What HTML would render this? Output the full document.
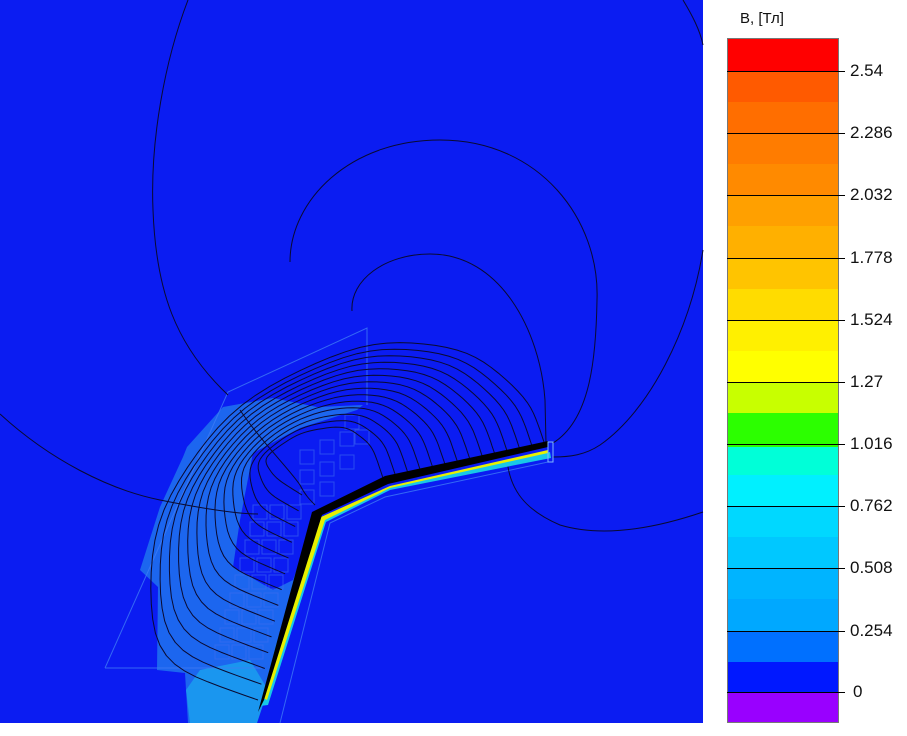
<!DOCTYPE html>
<html><head><meta charset="utf-8"><style>
html,body{margin:0;padding:0;background:#fff;width:907px;height:736px;overflow:hidden;font-family:"Liberation Sans",sans-serif}
#wrap{position:relative;width:907px;height:736px}
.lbl{position:absolute;left:850px;font-size:17px;color:#111;line-height:17px}
</style></head><body><div id="wrap">
<svg id="plot" width="907" height="736" style="position:absolute;left:0;top:0">
<rect x="0" y="0" width="703" height="723" fill="#0b1cf2"/>
<path d="M187,447 L223,407 L273,398 L317,407 L363,405 L357,410 L300,428 L253,453 L240,520 L233,567 L273,590 L293,580 L300,560 L267,683 L257,723 L188,723 L185,673 L157,670 L158,587 L140,570 L160,507 L183,457 Z" fill="#1c66ef"/>
<path d="M200,670 L250,660 L268,690 L257,723 L190,723 L186,690 Z" fill="#1a96ef"/>
<g stroke="#3f7cf5" stroke-width="1" fill="none" opacity="0.8">
<path d="M105,668 L228,392 L367,328 L367,405"/>
<path d="M105,668 L262,668"/>
<path d="M280,723 L330,523 L385,497 L548,462"/>
</g>
<g id="sq" stroke="#3f6cf0" stroke-width="1" fill="none" opacity="0.6"></g>
<g stroke="#0a0a30" stroke-width="1" fill="none">
<path d="M188,0 C165,60 150,140 153,210 C156,290 175,345 228,395"/>
<path d="M683,0 C692,15 700,30 703,45"/>
<path d="M290,262 C290,200 350,140 440,140 C540,140 600,220 597,300 C596,360 590,420 553,443"/>
<path d="M352,311 C350,280 385,254 430,254 C500,254 540,330 545,400 L546,443"/>
<path d="M0,414 C50,460 110,490 160,500 C200,508 235,514 258,514"/>
<path d="M507,460 C510,490 525,510 560,525 C600,537 650,530 703,512"/>
<path d="M703,250 C690,330 650,410 600,445 C585,455 570,457 553,457"/>
<path d="M240,410 C260,440 290,470 300,485 C305,495 310,500 315,505"/>
</g>
<g id="cont" stroke="#0a0a30" stroke-width="1" fill="none"></g>
<path d="M260,706 L276,645 L320,518 L390,487 L550,452 L551,458 L390,490 L326,522 L268,705 Z" fill="#18c8e8"/>
<path d="M263,698 L278,642 L321,517 L390,486 L548,450 L548,453 L390,488 L325,520 L267,700 Z" fill="#e8f000"/>
<path d="M258,712 L312,512 L385,476 L548,441 L548,447 L388,484 L322,515 L264,700 Z" fill="#000"/>
<rect x="548" y="442" width="5" height="20" fill="none" stroke="#7fb8ff" stroke-width="1"/>
<g id="cb"></g>
<rect x="727.5" y="38.5" width="111" height="684" fill="none" stroke="#777" stroke-width="1"/>
<g id="ticks" stroke="#000" stroke-width="1"></g>
</svg>
<div style="position:absolute;left:740px;top:10px;font-size:15px;color:#111">B, [Тл]</div>
<div class="lbl" style="top:62px">2.54</div>
<div class="lbl" style="top:124px">2.286</div>
<div class="lbl" style="top:186px">2.032</div>
<div class="lbl" style="top:249px">1.778</div>
<div class="lbl" style="top:311px">1.524</div>
<div class="lbl" style="top:373px">1.27</div>
<div class="lbl" style="top:435px">1.016</div>
<div class="lbl" style="top:497px">0.762</div>
<div class="lbl" style="top:559px">0.508</div>
<div class="lbl" style="top:622px">0.254</div>
<div class="lbl" style="top:683px;left:853px">0</div>
</div>
<script>
var NS="http://www.w3.org/2000/svg";
function el(p,t,a){var e=document.createElementNS(NS,t);for(var k in a)e.setAttribute(k,a[k]);p.appendChild(e);return e;}
var cols=["#ff0000","#ff5a00","#ff6e00","#ff7c00","#ff8a00","#ffa000","#ffb000","#ffc400","#ffdc00","#fff000","#ffff00","#c8ff00","#2cff00","#00ffd8","#00f0ff","#00d8ff","#00c8ff","#00b4ff","#00a8ff","#0070ff","#0018ff","#9900ff"];
var edges=[38,71,102,133,164,195,226,258,289,320,351,382,413,447,475,506,537,568,599,631,662,692,722];
var cb=document.getElementById("cb");
for(var i=0;i<cols.length;i++)el(cb,"rect",{x:727,y:edges[i],width:112,height:edges[i+1]-edges[i]+0.5,fill:cols[i]});
var tk=document.getElementById("ticks");
[71,133,195,258,320,382,444,506,568,631,692].forEach(function(y){el(tk,"line",{x1:727,y1:y+0.5,x2:845,y2:y+0.5});});
var P0=[[302,495],[275,478],[262,458],[300,432],[345,425],[372,445],[383,478]];
var P1=[[258,700],[150,662],[150,520],[232,402],[368,338],[470,348],[530,400],[545,445]];
function sample(P,t){var n=P.length-1,s=t*n,i=Math.min(Math.floor(s),n-1),f=s-i;return [P[i][0]+(P[i+1][0]-P[i][0])*f,P[i][1]+(P[i+1][1]-P[i][1])*f];}
function smooth(pts,it){for(var r=0;r<it;r++){var q=[pts[0]];for(var i=1;i<pts.length-1;i++)q.push([(pts[i-1][0]+2*pts[i][0]+pts[i+1][0])/4,(pts[i-1][1]+2*pts[i][1]+pts[i+1][1])/4]);q.push(pts[pts.length-1]);pts=q;}return pts;}
var ct=document.getElementById("cont");
var N=14;
for(var k=0;k<N;k++){var a=k/(N-1);var pts=[];
 for(var j=0;j<=60;j++){var t=j/60;var p=sample(P0,t),q=sample(P1,t);pts.push([p[0]+(q[0]-p[0])*a,p[1]+(q[1]-p[1])*a]);}
 pts=smooth(pts,12);var d="";
 pts.forEach(function(p,j){d+=(j?"L":"M")+p[0].toFixed(1)+","+p[1].toFixed(1);});
 el(ct,"path",{d:d,"stroke-linejoin":"round"});}
var sq=document.getElementById("sq");
var S=[[300,450],[320,440],[340,432],[300,470],[320,462],[340,455],[300,490],[320,482],[253,505],[270,505],[287,505],[250,522],[267,522],[284,522],[245,540],[262,540],[279,540],[240,558],[257,558],[274,558],[235,575],[252,575],[269,575],[230,593],[247,593],[264,593],[225,610],[242,610],[259,610],[220,628],[237,628],[254,628],[215,645],[232,645],[249,645],[345,415],[355,430]];
S.forEach(function(s){el(sq,"rect",{x:s[0],y:s[1],width:14,height:14});});
</script>
</body></html>
